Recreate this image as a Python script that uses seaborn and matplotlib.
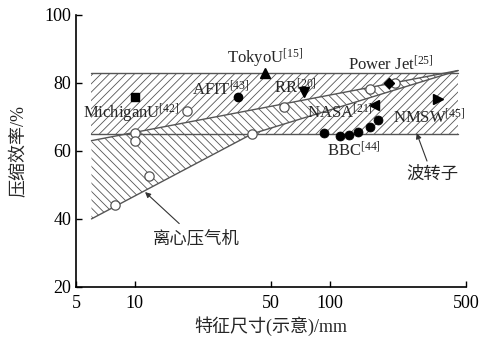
import numpy as np
import matplotlib
matplotlib.use('Agg')
import matplotlib.pyplot as plt
import seaborn as sns
import pandas as pd

# band outlines: feature size (mm) vs efficiency (%)
wave_x = [6, 455]
wave_low = [65, 65]
wave_high = [83, 83]

cent_up_x = [6, 455]
cent_up_y = [63, 83.6]
cent_low_x = [6, 40, 455]
cent_low_y = [40, 65, 83.6]

# open circles (centrifugal compressors)
open_x = [7.9, 10, 10, 11.9, 18.6, 39.8, 58.5, 161, 215]
open_y = [44.1, 65.2, 62.9, 52.7, 71.8, 64.9, 73.0, 78.1, 79.8]

# BBC wave rotor points
bbc_x = [93.5, 113, 126, 140, 161, 177]
bbc_y = [65.3, 64.4, 64.7, 65.5, 67.0, 69.1]

# named wave rotor points
names = ['MichiganU', 'AFIT', 'TokyoU', 'RR', 'NASA', 'Power Jet', 'NMSW']
refs = ['42', '43', '15', '20', '21', '25', '45']
pt_x = [10, 34.0, 46.6, 73.8, 169, 201, 359]
pt_y = [75.9, 75.7, 82.8, 77.2, 73.6, 80.0, 75.2]
pt_marker = ['s', 'o', '^', 'v', '<', 'D', '>']
# label left edge / baseline
lab_x = [5.4, 19.7, 29.7, 51.8, 76.6, 124, 211]
lab_y = [69.5, 76.4, 85.8, 77.0, 69.6, 83.7, 68.2]

sns.set_style('ticks')
plt.rcParams['font.family'] = ['Liberation Serif', 'Noto Sans CJK SC']
plt.rcParams['mathtext.fontset'] = 'custom'
plt.rcParams['mathtext.rm'] = 'Liberation Serif'
plt.rcParams['mathtext.default'] = 'rm'
plt.rcParams['hatch.linewidth'] = 0.6

fig = plt.figure(figsize=(4.85, 3.39), dpi=100)
ax = fig.add_axes([0.1567, 0.1534, 0.8043, 0.8032])
ax.set_xscale('log')

gray = '#555555'

# wave rotor band
ax.fill(wave_x + wave_x[::-1], wave_low + wave_high[::-1],
        facecolor='white', edgecolor=gray, hatch='////', linewidth=0, zorder=1)
# centrifugal compressor band
ax.fill(cent_up_x + cent_low_x[::-1], cent_up_y + cent_low_y[::-1],
        facecolor='white', edgecolor=gray, hatch='\\\\\\\\', linewidth=0, zorder=2)

ax.plot(wave_x, wave_low, color=gray, lw=1, zorder=3)
ax.plot(wave_x, wave_high, color=gray, lw=1, zorder=3)
ax.plot(cent_up_x, cent_up_y, color=gray, lw=1, zorder=3)
ax.plot(cent_low_x, cent_low_y, color=gray, lw=1, zorder=3)

df_open = pd.DataFrame({'x': open_x, 'y': open_y})
sns.scatterplot(data=df_open, x='x', y='y', ax=ax, s=45, marker='o',
                facecolor='white', edgecolor=gray, linewidth=0.9, zorder=4)

df_bbc = pd.DataFrame({'x': bbc_x, 'y': bbc_y})
sns.scatterplot(data=df_bbc, x='x', y='y', ax=ax, s=42, marker='o',
                color='black', edgecolor='black', zorder=5)

for i in range(len(names)):
    ms = {'s': 5.5, 'o': 6, 'D': 5.5}.get(pt_marker[i], 6.5)
    ax.plot(pt_x[i], pt_y[i], marker=pt_marker[i], color='black',
            markersize=ms, linestyle='none', zorder=5)
    ax.text(lab_x[i], lab_y[i], names[i] + '$^{[' + refs[i] + ']}$',
            fontsize=12, ha='left', va='baseline', zorder=6)

ax.text(96.8, 58.3, 'BBC$^{[44]}$', fontsize=12, ha='left', va='baseline')

ax.annotate('波转子', xy=(279, 65.2), xytext=(335, 52.9), fontsize=12.5,
            ha='center', va='center',
            arrowprops=dict(arrowstyle='-|>', color='#333333', lw=0.8,
                            mutation_scale=8, shrinkA=2, shrinkB=0))
ax.annotate('离心压气机', xy=(11.3, 47.9), xytext=(20.6, 34.1), fontsize=12.5,
            ha='center', va='center',
            arrowprops=dict(arrowstyle='-|>', color='#333333', lw=0.8,
                            mutation_scale=8, shrinkA=4, shrinkB=0))

ax.set_xlim(5, 500)
ax.set_ylim(20, 100)
ax.set_xticks([5, 10, 50, 100, 500])
ax.set_xticklabels(['5', '10', '50', '100', '500'])
ax.xaxis.set_minor_locator(matplotlib.ticker.NullLocator())
ax.set_yticks([20, 40, 60, 80, 100])
ax.tick_params(direction='in', length=4, width=1, labelsize=13, colors='black')
ax.tick_params(axis='x', pad=6)
ax.set_xlabel('特征尺寸(示意)/mm', fontsize=13, labelpad=3)
ax.set_ylabel('压缩效率/%', fontsize=13, labelpad=12)

sns.despine(ax=ax)
for s in ['left', 'bottom']:
    ax.spines[s].set_linewidth(1.2)
    ax.spines[s].set_color('black')

fig.savefig('out.png', dpi=100)
